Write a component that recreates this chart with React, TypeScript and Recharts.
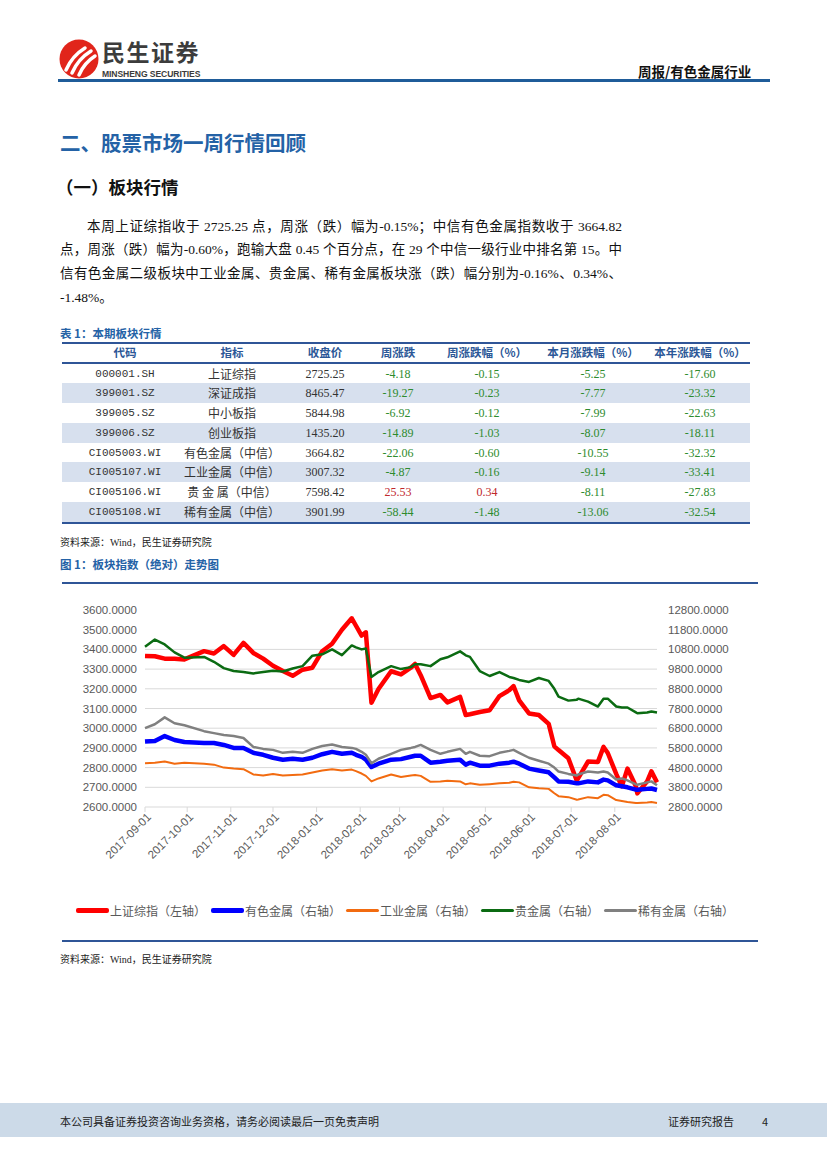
import React from 'react';
import { LineChart, Line, XAxis, YAxis, ReferenceLine } from 'recharts';

const dates = [
  '2017-09-01', '2017-09-08', '2017-09-15', '2017-09-22', '2017-09-29', '2017-10-13', '2017-10-20', '2017-10-27',
  '2017-11-03', '2017-11-10', '2017-11-17', '2017-11-24', '2017-12-01', '2017-12-08', '2017-12-15', '2017-12-22',
  '2017-12-29', '2018-01-05', '2018-01-12', '2018-01-19', '2018-01-26', '2018-01-29', '2018-02-02', '2018-02-05',
  '2018-02-09', '2018-02-14', '2018-02-23', '2018-03-02', '2018-03-09', '2018-03-12', '2018-03-16', '2018-03-23',
  '2018-03-30', '2018-04-04', '2018-04-13', '2018-04-17', '2018-04-20', '2018-04-27', '2018-05-04', '2018-05-11',
  '2018-05-18', '2018-05-21', '2018-05-25', '2018-06-01', '2018-06-08', '2018-06-15', '2018-06-19', '2018-06-22',
  '2018-06-29', '2018-07-05', '2018-07-06', '2018-07-13', '2018-07-20', '2018-07-24', '2018-07-27', '2018-08-02',
  '2018-08-06', '2018-08-10', '2018-08-16', '2018-08-17', '2018-08-24', '2018-08-27', '2018-08-31',
];

// 上证综指（左轴）
const shIndex = [
  3367, 3365, 3353, 3353, 3349, 3391, 3379, 3417,
  3372, 3433, 3382, 3353, 3317, 3290, 3266, 3297,
  3307, 3391, 3429, 3500, 3558, 3520, 3470, 3487,
  3129, 3199, 3289, 3273, 3307, 3326, 3269, 3153,
  3169, 3131, 3159, 3067, 3071, 3082, 3091, 3163,
  3193, 3214, 3141, 3075, 3067, 3022, 2908, 2889,
  2847, 2733, 2747, 2831, 2829, 2905, 2874, 2768,
  2705, 2795, 2705, 2669, 2730, 2781, 2725,
];
// 有色金属（右轴）
const nonferrous = [
  6120, 6150, 6400, 6200, 6100, 6050, 6050, 5950,
  5800, 5800, 5550, 5450, 5300, 5200, 5250, 5200,
  5300, 5480, 5600, 5500, 5550, 5450, 5350, 5200,
  4830, 5000, 5200, 5230, 5350, 5400, 5400, 5050,
  5100, 5150, 5200, 4950, 5050, 4900, 4900, 5000,
  5050, 5100, 5000, 4750, 4650, 4560, 4300, 4100,
  4080, 4000, 4000, 4100, 4050, 4190, 4150, 3900,
  3850, 3800, 3680, 3680, 3720, 3740, 3665,
];
// 工业金属（右轴）
const industrial = [
  5020, 5050, 5110, 5000, 5050, 5000, 4950, 4800,
  4750, 4720, 4450, 4400, 4480, 4400, 4420, 4450,
  4550, 4650, 4720, 4650, 4700, 4620, 4500, 4380,
  4100, 4250, 4450, 4320, 4400, 4420, 4380, 4080,
  4100, 4130, 4100, 3950, 4000, 3930, 3960, 4000,
  4030, 4080, 4050, 3800, 3750, 3720, 3500, 3350,
  3300, 3170, 3180, 3300, 3250, 3420, 3400, 3150,
  3100, 3050, 3000, 3000, 3030, 3050, 3007,
];
// 贵金属（右轴）
const precious = [
  10930, 11300, 11050, 10650, 10380, 10420, 10170, 9850,
  9700, 9650, 9580, 9650, 9720, 9680, 9830, 9950,
  10480, 10550, 10800, 10510, 11000, 10900, 10800, 10850,
  9400, 9650, 9950, 9800, 9900, 10050, 10050, 9950,
  10300, 10400, 10700, 10500, 10420, 9700, 9450, 9650,
  9400, 9350, 9250, 9150, 9350, 9200, 8800, 8400,
  8200, 8250, 8300, 8150, 7900, 8300, 8300, 7900,
  7850, 7850, 7600, 7560, 7600, 7650, 7598,
];
// 稀有金属（右轴）
const rare = [
  6800, 7000, 7350, 7050, 6950, 6650, 6550, 6450,
  6400, 6300, 5850, 5750, 5700, 5550, 5600, 5550,
  5750, 5900, 5970, 5850, 5800, 5750, 5600, 5450,
  5020, 5250, 5500, 5700, 5800, 5850, 5950, 5700,
  5500, 5600, 5750, 5500, 5600, 5400, 5380, 5550,
  5650, 5700, 5550, 5300, 5150, 5000, 4800, 4600,
  4480, 4400, 4450, 4600, 4550, 4600, 4550, 4200,
  4250, 4150, 3950, 3930, 4050, 4100, 3902,
];

const monthTicks = [
  '2017-09-01', '2017-10-01', '2017-11-01', '2017-12-01', '2018-01-01', '2018-02-01',
  '2018-03-01', '2018-04-01', '2018-05-01', '2018-06-01', '2018-07-01', '2018-08-01',
];
const xStart = '2017-09-01';
const xEnd = '2018-08-31';
const leftTicks = [2600, 2700, 2800, 2900, 3000, 3100, 3200, 3300, 3400, 3500, 3600];
const rightTicks = [2800, 3800, 4800, 5800, 6800, 7800, 8800, 9800, 10800, 11800, 12800];
const gridValues = [2700, 2800, 2900, 3000, 3100, 3200, 3300, 3400];

const seriesNames = ['上证综指（左轴）', '有色金属（右轴）', '工业金属（右轴）', '贵金属（右轴）', '稀有金属（右轴）'];
const seriesKeys = ['sh', 'nf', 'ind', 'pre', 'rare'];
const seriesColors = ['#FF0000', '#0000FF', '#F26B10', '#0B6B12', '#808080'];
const seriesWidths = [4.5, 4.5, 2, 2.5, 2.5];
const seriesAxes = ['left', 'right', 'right', 'right', 'right'];

// 表 1
const tCodes = ['000001.SH', '399001.SZ', '399005.SZ', '399006.SZ', 'CI005003.WI', 'CI005107.WI', 'CI005106.WI', 'CI005108.WI'];
const tNames = ['上证综指', '深证成指', '中小板指', '创业板指', '有色金属（中信）', '工业金属（中信）', '贵 金 属（中信）', '稀有金属（中信）'];
const tClose = ['2725.25', '8465.47', '5844.98', '1435.20', '3664.82', '3007.32', '7598.42', '3901.99'];
const tWeekChg = ['-4.18', '-19.27', '-6.92', '-14.89', '-22.06', '-4.87', '25.53', '-58.44'];
const tWeekPct = ['-0.15', '-0.23', '-0.12', '-1.03', '-0.60', '-0.16', '0.34', '-1.48'];
const tMonthPct = ['-5.25', '-7.77', '-7.99', '-8.07', '-10.55', '-9.14', '-8.11', '-13.06'];
const tYearPct = ['-17.60', '-23.32', '-22.63', '-18.11', '-32.32', '-33.41', '-27.83', '-32.54'];
const tHeaders = ['代码', '指标', '收盘价', '周涨跌', '周涨跌幅（%）', '本月涨跌幅（%）', '本年涨跌幅（%）'];

const seriesArrays = [shIndex, nonferrous, industrial, precious, rare];
const chartData = dates.map((d, i) => {
  const row: Record<string, number> = { t: Date.parse(d) };
  seriesKeys.forEach((k, j) => { row[k] = seriesArrays[j][i]; });
  return row;
});
const tickTs = monthTicks.map((m) => Date.parse(m));
const fmtDate = (t: number) => new Date(t).toISOString().slice(0, 10);
const fmt4 = (v: number) => v.toFixed(4);

const CJK = "'Noto Sans CJK SC', sans-serif";
const SERIF = "'Liberation Serif', 'Noto Sans CJK SC', serif";
const AXIS_FONT = "'Liberation Sans', 'Noto Sans CJK SC', sans-serif";
const BLUE = '#1F5C99';

const DateTick = (props: any) => {
  const { x, y, payload } = props;
  return (
    <g transform={`translate(${x + 4},${y + 1})`}>
      <text transform="rotate(-45)" textAnchor="end" fontSize={11.5} fill="#595959" fontFamily={AXIS_FONT} dy={4}>
        {fmtDate(payload.value)}
      </text>
    </g>
  );
};

const Chart = () => (
  <LineChart width={700} height={297} data={chartData} margin={{ top: 20, right: 0, bottom: 0, left: 0 }}>
    <XAxis
      dataKey="t"
      type="number"
      domain={[Date.parse(xStart), Date.parse(xEnd)]}
      ticks={tickTs}
      interval={0}
      height={80}
      tick={<DateTick />}
      tickSize={5}
      axisLine={{ stroke: '#D9D9D9' }}
      tickLine={{ stroke: '#D9D9D9' }}
    />
    <YAxis
      yAxisId="left"
      orientation="left"
      width={85}
      domain={[2600, 3600]}
      ticks={leftTicks}
      interval={0}
      axisLine={false}
      tickLine={false}
      tick={{ fill: '#595959', fontSize: 11.5, fontFamily: AXIS_FONT }}
      tickFormatter={fmt4}
    />
    <YAxis
      yAxisId="right"
      orientation="right"
      width={103}
      domain={[2800, 12800]}
      ticks={rightTicks}
      interval={0}
      axisLine={false}
      tickLine={false}
      tickMargin={5}
      tick={{ fill: '#595959', fontSize: 11.5, fontFamily: AXIS_FONT, textAnchor: 'start' }}
      tickFormatter={fmt4}
    />
    {gridValues.map((v) => (
      <ReferenceLine key={v} yAxisId="left" y={v} stroke="#D9D9D9" strokeWidth={1} />
    ))}
    {seriesKeys.map((k, i) => (
      <Line
        key={k}
        yAxisId={seriesAxes[i]}
        dataKey={k}
        name={seriesNames[i]}
        type="linear"
        stroke={seriesColors[i]}
        strokeWidth={seriesWidths[i]}
        dot={false}
        strokeLinejoin="round"
        isAnimationActive={false}
      />
    ))}
  </LineChart>
);

const ChartLegend = () => (
  <div style={{ position: 'absolute', left: 76, top: 902, display: 'flex', alignItems: 'center', fontFamily: CJK, fontSize: 12, color: '#595959', whiteSpace: 'nowrap' }}>
    {seriesNames.map((n, i) => (
      <div key={n} style={{ display: 'flex', alignItems: 'center', marginRight: 5 }}>
        <div style={{ width: 33, height: Math.max(2, seriesWidths[i] + 0.5), background: seriesColors[i], borderRadius: 2, marginRight: 1 }} />
        <span>{n}</span>
      </div>
    ))}
  </div>
);

const Logo = () => (
  <div style={{ position: 'absolute', left: 58, top: 38 }}>
    <svg width={42} height={42} style={{ position: 'absolute', left: 0, top: 0 }}>
      <circle cx={21} cy={21} r={19.5} fill="#E1251B" />
      <path d="M8 32 Q14 18 27 10" stroke="#fff" strokeWidth={3.5} fill="none" strokeLinecap="round" />
      <path d="M14 35 Q20 21 33 13" stroke="#fff" strokeWidth={3.5} fill="none" strokeLinecap="round" />
      <path d="M21 37 Q26 25 37 18" stroke="#fff" strokeWidth={3.5} fill="none" strokeLinecap="round" />
    </svg>
    <div style={{ position: 'absolute', left: 44, top: 2, fontFamily: CJK, fontWeight: 700, fontSize: 23, color: '#3C3C3C', whiteSpace: 'nowrap', lineHeight: '23px', height: 23, letterSpacing: 1.5 }}>民生证券</div>
    <div style={{ position: 'absolute', left: 44, top: 31, fontFamily: "'Liberation Sans', sans-serif", fontWeight: 700, fontSize: 8.6, lineHeight: '10px', height: 10, color: '#3C3C3C', whiteSpace: 'nowrap', letterSpacing: -0.1 }}>MINSHENG SECURITIES</div>
  </div>
);

const colCenters = [125, 232, 325, 398, 487, 593, 700];

const Cell = ({ cx, top, children, style }: any) => (
  <div style={{ position: 'absolute', left: cx - 60, width: 120, top, height: 20, lineHeight: '20px', textAlign: 'center', whiteSpace: 'nowrap', ...style }}>{children}</div>
);

const numColor = (s: string) => (s.startsWith('-') ? '#2E8B2E' : '#C0282D');

const Table = () => {
  const top = 343;
  const headH = 19;
  const rowH = 19.75;
  return (
    <div>
      <div style={{ position: 'absolute', left: 62, top: top - 1, width: 688, height: 2, background: '#2F5597' }} />
      {tHeaders.map((h, i) => (
        <Cell key={h} cx={colCenters[i]} top={top} style={{ fontFamily: CJK, fontWeight: 700, fontSize: 11.5, color: '#2B5797', height: headH, lineHeight: `${headH}px` }}>{h}</Cell>
      ))}
      <div style={{ position: 'absolute', left: 62, top: top + headH, width: 688, height: 1.5, background: '#2F5597' }} />
      {tCodes.map((c, r) => {
        const y = top + headH + 1.5 + r * rowH;
        return (
          <React.Fragment key={c}>
            {r % 2 === 1 && <div style={{ position: 'absolute', left: 62, top: y, width: 688, height: rowH, background: '#D7E0EE' }} />}
            <Cell cx={colCenters[0]} top={y} style={{ fontFamily: "'Liberation Mono', monospace", fontSize: 11, color: '#333' }}>{c}</Cell>
            <Cell cx={colCenters[1]} top={y} style={{ fontFamily: CJK, fontSize: 12, color: '#333' }}>{tNames[r]}</Cell>
            <Cell cx={colCenters[2]} top={y} style={{ fontFamily: SERIF, fontSize: 12, color: '#333' }}>{tClose[r]}</Cell>
            <Cell cx={colCenters[3]} top={y} style={{ fontFamily: SERIF, fontSize: 12, color: numColor(tWeekChg[r]) }}>{tWeekChg[r]}</Cell>
            <Cell cx={colCenters[4]} top={y} style={{ fontFamily: SERIF, fontSize: 12, color: numColor(tWeekPct[r]) }}>{tWeekPct[r]}</Cell>
            <Cell cx={colCenters[5]} top={y} style={{ fontFamily: SERIF, fontSize: 12, color: numColor(tMonthPct[r]) }}>{tMonthPct[r]}</Cell>
            <Cell cx={colCenters[6]} top={y} style={{ fontFamily: SERIF, fontSize: 12, color: numColor(tYearPct[r]) }}>{tYearPct[r]}</Cell>
          </React.Fragment>
        );
      })}
      <div style={{ position: 'absolute', left: 62, top: top + headH + 1.5 + 8 * rowH, width: 688, height: 2.5, background: '#2F5597' }} />
    </div>
  );
};

const paraLine = (text: string, top: number, indent: number, justify: boolean) => (
  <div style={{ position: 'absolute', left: 60 + indent, top, width: 562 - indent, fontFamily: SERIF, fontSize: 13.5, lineHeight: '24px', color: '#111', whiteSpace: 'nowrap', textAlign: justify ? 'justify' : 'left', textAlignLast: justify ? 'justify' : 'left' } as any}>{text}</div>
);

export default function App() {
  return (
    <div style={{ position: 'absolute', left: 0, top: 0, width: 827, height: 1169, background: '#fff', overflow: 'hidden' }}>
      <Logo />
      <div style={{ position: 'absolute', left: 638, top: 61, fontFamily: CJK, fontWeight: 700, fontSize: 13.5, color: '#111', whiteSpace: 'nowrap' }}>周报/有色金属行业</div>
      <div style={{ position: 'absolute', left: 58, top: 79, width: 712, height: 3, background: BLUE }} />

      <div style={{ position: 'absolute', left: 60, top: 127, fontFamily: CJK, fontWeight: 700, fontSize: 20.5, color: '#2462A6', whiteSpace: 'nowrap' }}>二、股票市场一周行情回顾</div>
      <div style={{ position: 'absolute', left: 56, top: 174, fontFamily: CJK, fontWeight: 700, fontSize: 17.5, color: '#111', whiteSpace: 'nowrap' }}>（一）板块行情</div>

      {paraLine('本周上证综指收于 2725.25 点，周涨（跌）幅为-0.15%；中信有色金属指数收于 3664.82', 215, 27, true)}
      {paraLine('点，周涨（跌）幅为-0.60%，跑输大盘 0.45 个百分点，在 29 个中信一级行业中排名第 15。中', 238, 0, true)}
      {paraLine('信有色金属二级板块中工业金属、贵金属、稀有金属板块涨（跌）幅分别为-0.16%、0.34%、', 262, 0, true)}
      {paraLine('-1.48%。', 286, 0, false)}

      <div style={{ position: 'absolute', left: 60, top: 325, fontFamily: CJK, fontWeight: 700, fontSize: 11.5, color: '#2462A6', whiteSpace: 'nowrap' }}>表 1：本期板块行情</div>
      <Table />
      <div style={{ position: 'absolute', left: 60, top: 534, fontFamily: SERIF, fontSize: 10, color: '#222', whiteSpace: 'nowrap' }}>资料来源：Wind，民生证券研究院</div>

      <div style={{ position: 'absolute', left: 60, top: 556, fontFamily: CJK, fontWeight: 700, fontSize: 11.5, color: '#2462A6', whiteSpace: 'nowrap' }}>图 1：板块指数（绝对）走势图</div>
      <div style={{ position: 'absolute', left: 62, top: 582, width: 696, height: 1.5, background: '#2F5597' }} />
      <div style={{ position: 'absolute', left: 60, top: 590 }}>
        <Chart />
      </div>
      <ChartLegend />
      <div style={{ position: 'absolute', left: 62, top: 940, width: 696, height: 1.5, background: '#2F5597' }} />
      <div style={{ position: 'absolute', left: 60, top: 951, fontFamily: SERIF, fontSize: 10, color: '#222', whiteSpace: 'nowrap' }}>资料来源：Wind，民生证券研究院</div>

      <div style={{ position: 'absolute', left: 0, top: 1103, width: 827, height: 34, background: '#CCDAE8' }} />
      <div style={{ position: 'absolute', left: 60, top: 1113, fontFamily: CJK, fontSize: 11, color: '#222', whiteSpace: 'nowrap' }}>本公司具备证券投资咨询业务资格，请务必阅读最后一页免责声明</div>
      <div style={{ position: 'absolute', left: 668, top: 1113, fontFamily: CJK, fontSize: 11, color: '#222', whiteSpace: 'nowrap' }}>证券研究报告</div>
      <div style={{ position: 'absolute', left: 762, top: 1113, fontFamily: CJK, fontSize: 11, color: '#222', whiteSpace: 'nowrap' }}>4</div>
    </div>
  );
}
